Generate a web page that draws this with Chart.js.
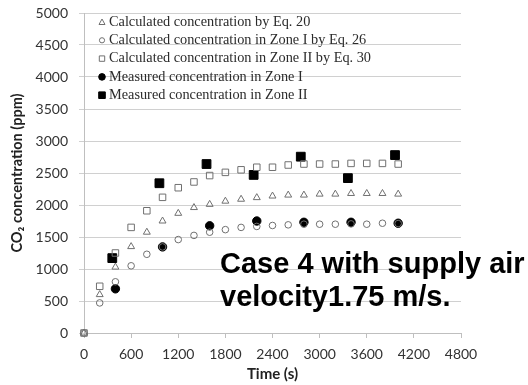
<!DOCTYPE html>
<html>
<head>
<meta charset="utf-8">
<script src="https://cdn.jsdelivr.net/npm/chart.js@4/dist/chart.umd.min.js"></script>
<style>
  body { margin: 0; background: #fff; }
  #wrap { width: 528px; height: 385px; position: relative; }
</style>
</head>
<body>
<div id="wrap"><canvas id="co2Chart"></canvas></div>
<script>
// time in seconds
const timesCalc = [0, 200, 400, 600, 800, 1000, 1200, 1400, 1600, 1800, 2000,
                   2200, 2400, 2600, 2800, 3000, 3200, 3400, 3600, 3800, 4000];
const calcEq20 = [0, 600, 1030, 1350, 1575, 1750, 1870, 1960, 2010, 2060, 2090,
                  2115, 2140, 2155, 2155, 2170, 2170, 2180, 2180, 2180, 2170];
const calcZone1Eq26 = [0, 470, 800, 1050, 1230, 1345, 1460, 1525, 1575, 1615, 1650,
                       1665, 1680, 1690, 1700, 1700, 1700, 1705, 1700, 1715, 1710];
const calcZone2Eq30 = [0, 730, 1250, 1650, 1910, 2120, 2270, 2360, 2460, 2510, 2550,
                       2590, 2590, 2625, 2640, 2640, 2640, 2650, 2650, 2650, 2640];
const timesMeasZone1 = [400, 1000, 1600, 2200, 2800, 3400, 4000];
const measZone1 = [690, 1345, 1675, 1750, 1730, 1730, 1715];
const timesMeasZone2 = [360, 960, 1560, 2160, 2760, 3360, 3960];
const measZone2 = [1170, 2340, 2640, 2470, 2755, 2420, 2780];

const legendLabels = [
  "Calculated concentration by Eq. 20",
  "Calculated concentration in Zone I by Eq. 26",
  "Calculated concentration in Zone II by Eq. 30",
  "Measured concentration in Zone I",
  "Measured concentration in Zone II"
];
const noteLines = ["Case 4 with supply air", "velocity1.75 m/s."];

function toPoints(xs, ys) {
  return xs.map((x, i) => ({ x: x, y: ys[i] }));
}

const hollow = "#707070";

const datasets = [
  { label: legendLabels[0], data: toPoints(timesCalc, calcEq20), pointStyle: "triangle",
    pointRadius: 4, borderColor: hollow, backgroundColor: "rgba(255,255,255,0)", borderWidth: 1, clip: false },
  { label: legendLabels[1], data: toPoints(timesCalc, calcZone1Eq26), pointStyle: "circle",
    pointRadius: 3.3, borderColor: hollow, backgroundColor: "rgba(255,255,255,0)", borderWidth: 1, clip: false },
  { label: legendLabels[2], data: toPoints(timesCalc, calcZone2Eq30), pointStyle: "rect",
    pointRadius: 4.6, borderColor: hollow, backgroundColor: "rgba(255,255,255,0)", borderWidth: 1, clip: false },
  { label: legendLabels[3], data: toPoints(timesMeasZone1, measZone1), pointStyle: "circle",
    pointRadius: 4.2, borderColor: "#000", backgroundColor: "#000", borderWidth: 1, clip: false },
  { label: legendLabels[4], data: toPoints(timesMeasZone2, measZone2), pointStyle: "rect",
    pointRadius: 6.2, borderColor: "#000", backgroundColor: "#000", borderWidth: 1, clip: false }
];

// marker legend drawn inside the plot, plus the big case note
const insideLegend = {
  id: "insideLegend",
  afterDatasetsDraw(chart) {
    const ctx = chart.ctx;
    const area = chart.chartArea;
    ctx.save();
    ctx.font = "14.3px 'Liberation Serif', 'Times New Roman', serif";
    ctx.textBaseline = "middle";
    ctx.textAlign = "left";
    chart.data.datasets.forEach((ds, i) => {
      const y = area.top + 9 + i * 18.3;
      const mx = area.left + 18;
      const filled = i >= 3;
      ctx.fillStyle = filled ? "#000" : "#fff";
      ctx.strokeStyle = filled ? "#000" : hollow;
      ctx.lineWidth = 1;
      ctx.beginPath();
      if (ds.pointStyle === "triangle") {
        ctx.moveTo(mx, y - 3);
        ctx.lineTo(mx + 3, y + 2.5);
        ctx.lineTo(mx - 3, y + 2.5);
        ctx.closePath();
      } else if (ds.pointStyle === "circle") {
        ctx.arc(mx, y, filled ? 3.3 : 2.6, 0, Math.PI * 2);
      } else {
        const s = filled ? 3.3 : 2.7;
        ctx.rect(mx - s, y - s, 2 * s, 2 * s);
      }
      ctx.fill();
      ctx.stroke();
      ctx.fillStyle = "#2b2b2b";
      ctx.fillText(ds.label, area.left + 25, y);
    });

    ctx.fillStyle = "#000";
    ctx.font = "bold 29px 'Liberation Sans', Arial, sans-serif";
    ctx.textBaseline = "alphabetic";
    ctx.fillText(noteLines[0], 220, 273);
    ctx.fillText(noteLines[1], 220, 306);
    ctx.restore();
  }
};

new Chart(document.getElementById("co2Chart"), {
  type: "scatter",
  data: { datasets: datasets },
  options: {
    responsive: true,
    maintainAspectRatio: false,
    animation: false,
    layout: { padding: { top: 13, right: 67, bottom: 0, left: 0 } },
    plugins: {
      legend: { display: false },
      tooltip: { enabled: false }
    },
    scales: {
      x: {
        type: "linear",
        min: 0,
        max: 4800,
        ticks: { stepSize: 600, color: "#333", padding: 8,
                 font: { family: "Lato", size: 14 },
                 callback: (v) => String(v) },
        grid: { drawOnChartArea: false, tickLength: 5, color: "#bfbfbf" },
        border: { color: "#bfbfbf" },
        title: { display: true, text: "Time (s)", color: "#222",
                 font: { family: "Lato", size: 15, weight: "bold" },
                 padding: { top: 0, bottom: 2 } },
        afterFit(scale) { scale.height = 52; }
      },
      y: {
        min: 0,
        max: 5000,
        ticks: { stepSize: 500, color: "#333", padding: 11,
                 font: { family: "Lato", size: 14 },
                 callback: (v) => String(v) },
        grid: { color: "#d0d0d0", tickLength: 5 },
        border: { color: "#bfbfbf" },
        title: { display: true, text: "CO₂ concentration (ppm)", color: "#222",
                 font: { family: "Lato", size: 14.5, weight: "bold" },
                 padding: { top: 9, bottom: 0 } },
        afterFit(scale) {
          scale.width = 84;
          scale.paddingTop = 0;
          scale.paddingBottom = 0;
        }
      }
    }
  },
  plugins: [insideLegend]
});
</script>
</body>
</html>
